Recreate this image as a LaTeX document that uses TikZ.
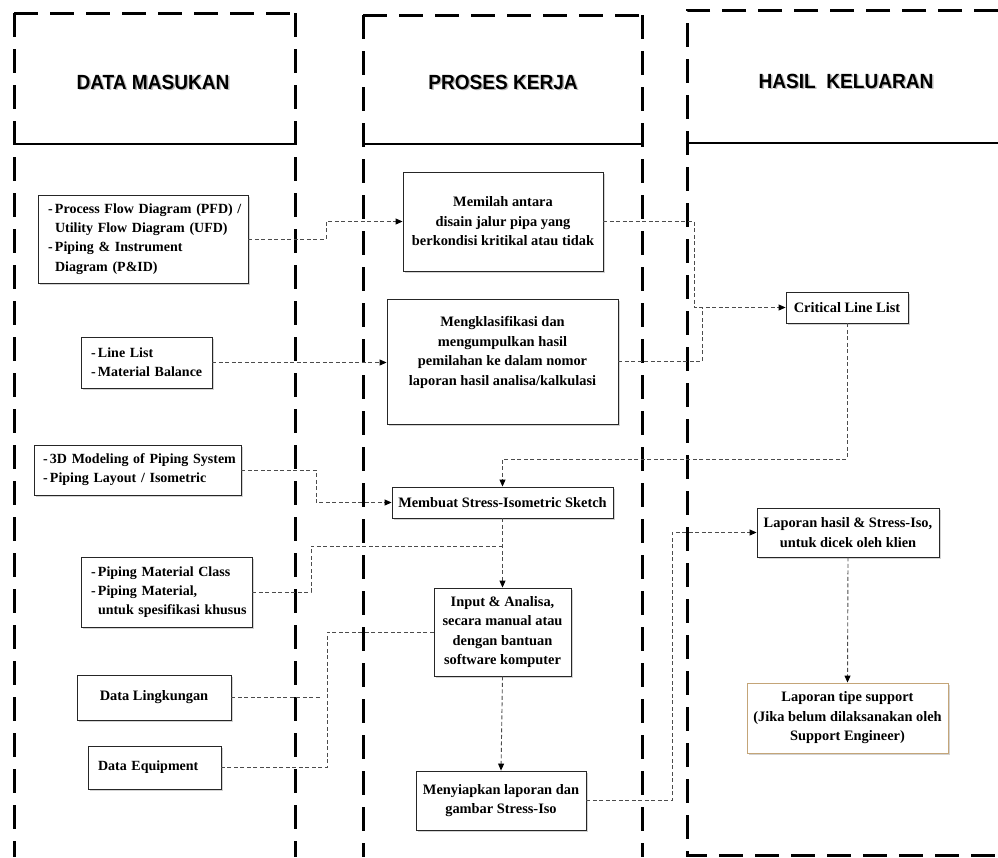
\documentclass[tikz,border=0pt]{standalone}
\usepackage{fontspec}
\setmainfont{Liberation Serif}
\setsansfont{Liberation Sans}
\usetikzlibrary{arrows.meta,shadows}
\newcommand{\bxfont}{\fontsize{14.4}{19.5}\selectfont\bfseries}
\newcommand{\lbxfont}{\fontsize{14}{19.2}\selectfont\bfseries}
\newcommand{\hdfont}{\fontsize{20.5}{24}\selectfont\sffamily\bfseries}
\newcommand{\hd}[1]{\scalebox{0.93}[1]{#1}}
\newcommand{\bxline}[1]{\mbox{#1}}
\tikzset{
  col/.style={line width=3pt, dash pattern=on 24pt off 12pt},
  hdr/.style={line width=1.8pt},
  box/.style={draw=black!85, line width=0.9pt, fill=white, inner sep=0pt, font=\bxfont,
    drop shadow={shadow xshift=1.5pt,shadow yshift=-1.5pt,opacity=0.35}},
  lbox/.style={box, font=\lbxfont, align=left},
  conn/.style={draw=black!70, line width=0.9pt, dash pattern=on 4pt off 2.5pt},
  arr/.style={-{Triangle[length=7pt,width=6pt,color=black]}},
  head/.style={font=\hdfont},
  headshadow/.style={font=\hdfont, text=black!50, opacity=0.55},
}
\begin{document}
\begin{tikzpicture}[x=1pt,y=-1pt]
\useasboundingbox (0,0) rectangle (998,857);
% ---------- column frames ----------
\draw[col] (14,13) -- (295,13);
\draw[col] (14,13) -- (14,857);
\draw[col] (295,13) -- (295,857);
\draw[hdr] (14,144) -- (295,144);
\draw[col] (363,15) -- (642,15);
\draw[col] (363,15) -- (363,857);
\draw[col] (642,15) -- (642,857);
\draw[hdr] (363,144) -- (642,144);
\draw[col] (998,10) -- (687,10) -- (687,855) -- (998,855);
\draw[hdr] (687,143) -- (998,143);
% ---------- headings ----------
\node[headshadow] (h1s) at (154.5,83.5) {\hd{DATA MASUKAN}};
\node[head] (h1) at (153,82) {\hd{DATA MASUKAN}};
\node[headshadow] (h2s) at (504.5,83.5) {\hd{PROSES KERJA}};
\node[head] (h2) at (503,82) {\hd{PROSES KERJA}};
\node[headshadow] (h3s) at (847.5,82.5) {\hd{HASIL\ \ KELUARAN}};
\node[head] (h3) at (846,81) {\hd{HASIL\ \ KELUARAN}};
% ---------- left boxes ----------
\node[lbox, minimum width=210pt, minimum height=88pt, text width=190pt] (pfd) at (143,239)
  {\bxline{-\,Process Flow Diagram (PFD) /}\\\bxline{\hspace*{7pt}Utility Flow Diagram (UFD)}\\\bxline{-\,Piping \& Instrument}\\\bxline{\hspace*{7pt}Diagram (P\&ID)}};
\node[lbox, minimum width=131pt, minimum height=51pt, text width=111pt] (ll) at (146.5,362.5)
  {\bxline{-\,Line List}\\\bxline{-\,Material Balance}};
\node[lbox, minimum width=207pt, minimum height=50pt, text width=189pt] (d3) at (137.5,470)
  {\bxline{-\,3D Modeling of Piping System}\\\bxline{-\,Piping Layout / Isometric}};
\node[lbox, minimum width=171pt, minimum height=70pt, text width=151pt] (pmc) at (166.5,592)
  {\bxline{-\,Piping Material Class}\\\bxline{-\,Piping Material,}\\\bxline{\hspace*{7pt}untuk spesifikasi khusus}};
\node[box, minimum width=154pt, minimum height=45pt, align=center] (ling) at (154,697.5) {Data Lingkungan};
\node[lbox, minimum width=133pt, minimum height=43pt, text width=113pt] (eq) at (154.5,767.5) {\bxline{Data Equipment}};
% ---------- middle boxes ----------
\node[box, minimum width=200pt, minimum height=99pt, align=center] (mem) at (503,221.5)
  {Memilah antara\\disain jalur pipa yang\\berkondisi kritikal atau tidak};
\node[box, minimum width=231pt, minimum height=125pt] (mk) at (502.5,361.5) {};
\node[font=\bxfont, align=center, inner sep=0pt] (mkt) at (502.5,352.5)
  {Mengklasifikasi dan\\mengumpulkan hasil\\pemilahan ke dalam nomor\\laporan hasil analisa/kalkulasi};
\node[box, minimum width=221pt, minimum height=31pt, align=center] (mb) at (502.5,502.5)
  {Membuat Stress-Isometric Sketch};
\node[box, minimum width=137pt, minimum height=88pt, align=center] (inp) at (502.5,632)
  {Input \& Analisa,\\secara manual atau\\dengan bantuan\\software komputer};
\node[box, minimum width=170pt, minimum height=59pt, align=center] (meny) at (501,800.5)
  {Menyiapkan laporan dan\\gambar Stress-Iso};
% ---------- right boxes ----------
\node[box, minimum width=122pt, minimum height=31pt, align=center] (crit) at (847,307.5) {Critical Line List};
\node[box, minimum width=182pt, minimum height=49pt, align=center] (lap) at (848,532.5)
  {Laporan hasil \& Stress-Iso,\\untuk dicek oleh klien};
\node[box, draw={rgb,255:red,196;green,165;blue,120}, minimum width=201pt, minimum height=70pt, align=center] (tipe) at (847.5,718)
  {Laporan tipe support\\(Jika belum dilaksanakan oleh\\Support Engineer)};
% ---------- junction coordinates ----------
\coordinate (j1) at (326,0);
\coordinate (j2) at (694,0);
\coordinate (j3) at (702,0);
\coordinate (j4) at (0,459);
\coordinate (j5) at (316,0);
\coordinate (j6) at (311,546);
\coordinate (j7) at (327,0);
\coordinate (j8) at (321,0);
\coordinate (j9) at (672,0);
% ---------- connectors ----------
\draw[conn,arr] (pfd.east) -- (pfd.east -| j1) |- (mem.west);
\draw[conn,arr] (ll.east) -- (ll.east -| mk.west);
\draw[conn,arr] (mem.east) -- (mem.east -| j2) |- (crit.west);
\draw[conn] (mk.east) -- (mk.east -| j3) -- (j3 |- crit.west);
\draw[conn,arr] (crit.south) -- (crit.south |- j4) -| (mb.north);
\draw[conn,arr] (d3.east) -- (d3.east -| j5) |- (mb.west);
\draw[conn,arr] (mb.south) -- (inp.north);
\draw[conn] (pmc.east) -- (pmc.east -| j6) -- (j6) -- (j6 -| mb.south);
\draw[conn] (inp.west) -- (inp.west -| j7) |- (eq.east);
\draw[conn] (ling.east) -- (ling.east -| j8);
\draw[conn,arr] (inp.south) -- (meny.north);
\draw[conn,arr] (meny.east) -- (meny.east -| j9) |- (lap.west);
\draw[conn,arr] (lap.south) -- (tipe.north);
\end{tikzpicture}
\end{document}
